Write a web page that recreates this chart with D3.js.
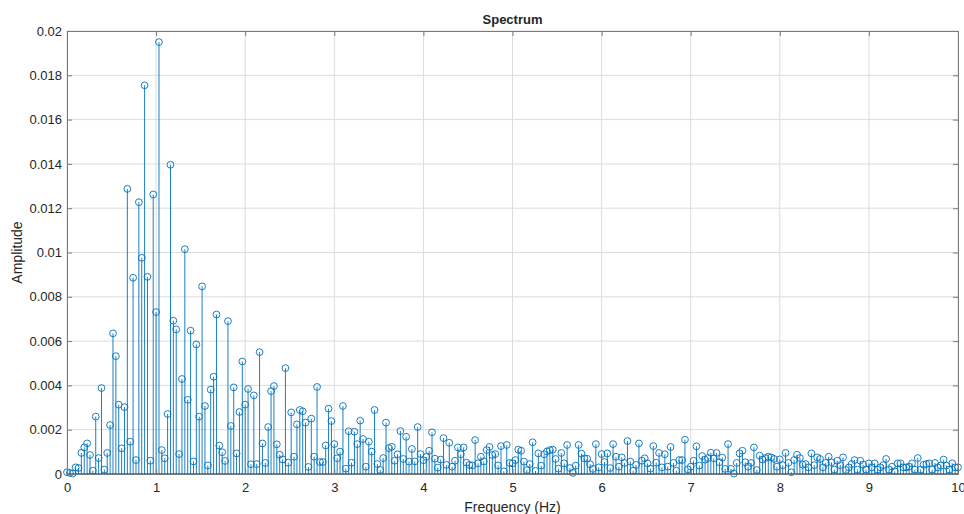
<!DOCTYPE html>
<html>
<head>
<meta charset="utf-8">
<script src="https://cdn.jsdelivr.net/npm/d3@7/dist/d3.min.js"></script>
<style>
  body { margin: 0; background: #fff; }
  text { font-family: "Liberation Sans", Arial, Helvetica, sans-serif; fill: #262626; }
</style>
</head>
<body>
<script>

// frequency bin spacing (Hz) and amplitude of each bin
var freq_step = 10 / 310;
var amplitudes = [
  0.00008, 0.00005, 0.00002, 0.0003, 0.00027, 0.00095, 0.0012, 0.00138, 0.00086, 0.00015,
  0.00259, 0.00072, 0.00388, 0.0002, 0.00095, 0.00221, 0.00635, 0.00532, 0.00313, 0.00116,
  0.00302, 0.01287, 0.00146, 0.00886, 0.00063, 0.01227, 0.00976, 0.01755, 0.0089, 0.0006,
  0.01262, 0.00731, 0.0195, 0.00108, 0.00071, 0.00271, 0.01396, 0.00692, 0.00653, 0.0009,
  0.00429, 0.01015, 0.00335, 0.00647, 0.00057, 0.00585, 0.00259, 0.00847, 0.00307, 0.00039,
  0.00381, 0.00439, 0.0072, 0.00128, 0.00098, 0.00059, 0.0069, 0.00217, 0.00391, 0.00093,
  0.0028, 0.00508, 0.00313, 0.00384, 0.00044, 0.00355, 0.00045, 0.0055, 0.00138, 0.0005,
  0.00212, 0.00374, 0.00397, 0.00134, 0.00087, 0.00066, 0.00478, 0.00051, 0.00278, 0.00078,
  0.00224, 0.00289, 0.00283, 0.00232, 0.00032, 0.0025, 0.00078, 0.00393, 0.00054, 0.00054,
  0.00129, 0.00295, 0.00239, 0.00135, 0.00071, 0.00101, 0.00307, 0.00024, 0.00193, 0.00051,
  0.00191, 0.00135, 0.00241, 0.00158, 0.00033, 0.00146, 0.00101, 0.00289, 0.00045, 0.00018,
  0.00072, 0.00232, 0.00117, 0.00123, 0.0006, 0.00089, 0.00194, 0.00068, 0.00168, 0.00056,
  0.00113, 0.00057, 0.00212, 0.0009, 0.00062, 0.00077, 0.00105, 0.00188, 0.00069, 0.00029,
  0.00065, 0.00162, 0.00041, 0.00141, 0.00033, 0.0006, 0.0012, 0.00089, 0.0012, 0.00051,
  0.00041, 0.00039, 0.00153, 0.00048, 0.00078, 0.00057, 0.00108, 0.00122, 0.00086, 0.0009,
  0.00039, 0.00126, 0.00012, 0.00131, 0.0005, 0.00048, 0.00063, 0.0011, 0.00105, 0.00056,
  0.00018, 0.00045, 0.00143, 0.00014, 0.00093, 0.00038, 0.00089, 0.00102, 0.00108, 0.0011,
  0.00068, 0.00024, 0.00095, 0.00048, 0.00131, 0.00027, 0.00005, 0.00038, 0.00131, 0.00092,
  0.00071, 0.00069, 0.00044, 0.00023, 0.00135, 0.0003, 0.0009, 0.00054, 0.00093, 0.00027,
  0.00135, 0.00078, 0.00033, 0.00075, 0.0005, 0.00149, 0.00056, 0.00015, 0.00041, 0.00138,
  0.0006, 0.00071, 0.00048, 0.00024, 0.00126, 0.00051, 0.00095, 0.0003, 0.00089, 0.00033,
  0.00122, 0.0005, 0.00015, 0.00063, 0.00063, 0.00155, 0.00021, 0.00033, 0.0006, 0.00125,
  0.00038, 0.00081, 0.00065, 0.00072, 0.00096, 0.00071, 0.00095, 0.00053, 0.00074, 0.00023,
  0.00135, 0.00023, 0.00002, 0.0005, 0.00093, 0.00105, 0.00053, 0.00033, 0.0005, 0.0012,
  0.00018, 0.00083, 0.00065, 0.00072, 0.00078, 0.00075, 0.00068, 0.00033, 0.00066, 0.0004,
  0.00095, 0.0005, 0.00008, 0.00063, 0.00087, 0.00072, 0.00042, 0.00045, 0.0003, 0.00093,
  0.0004, 0.00075, 0.00068, 0.0003, 0.0005, 0.00078, 0.00053, 0.0002, 0.0006, 0.0004,
  0.00075, 0.00018, 0.0003, 0.00045, 0.00063, 0.0002, 0.0006, 0.00042, 0.0002, 0.00048,
  0.0003, 0.00048, 0.0002, 0.0003, 0.0004, 0.00068, 0.0002, 0.00033, 0.00012, 0.00048,
  0.00048, 0.0003, 0.0003, 0.00033, 0.00048, 0.0002, 0.00072, 0.0002, 0.00042, 0.00045,
  0.00048, 0.0002, 0.0005, 0.0003, 0.00038, 0.00065, 0.00038, 0.0002, 0.00048, 0.0003, 0.0003
];
var x_ticks = [0, 1, 2, 3, 4, 5, 6, 7, 8, 9, 10];
var y_ticks = [0, 0.002, 0.004, 0.006, 0.008, 0.01, 0.012, 0.014, 0.016, 0.018, 0.02];

var width = 964, height = 514;
var margin = {top: 31, right: 6, bottom: 40, left: 67};
var w = width - margin.left - margin.right;
var h = height - margin.top - margin.bottom;
var stem_color = "#0072BD";

var svg = d3.select("body").append("svg")
    .attr("width", width)
    .attr("height", height);

var g = svg.append("g")
    .attr("transform", "translate(" + margin.left + "," + margin.top + ")");

var x = d3.scaleLinear().domain([0, 10]).range([0, w]);
var y = d3.scaleLinear().domain([0, 0.02]).range([h, 0]);

// grid
g.selectAll(".vgrid").data(x_ticks).enter().append("line")
    .attr("x1", function (d) { return x(d); })
    .attr("x2", function (d) { return x(d); })
    .attr("y1", 0).attr("y2", h)
    .attr("stroke", "#dcdcdc").attr("stroke-width", 1);
g.selectAll(".hgrid").data(y_ticks).enter().append("line")
    .attr("x1", 0).attr("x2", w)
    .attr("y1", function (d) { return y(d); })
    .attr("y2", function (d) { return y(d); })
    .attr("stroke", "#dcdcdc").attr("stroke-width", 1);

var points = amplitudes.map(function (a, i) {
  return {f: i * freq_step, a: a};
});

// stems
g.selectAll(".stem").data(points).enter().append("line")
    .attr("x1", function (d) { return x(d.f); })
    .attr("x2", function (d) { return x(d.f); })
    .attr("y1", y(0))
    .attr("y2", function (d) { return y(d.a); })
    .attr("stroke", stem_color).attr("stroke-width", 0.9);

// baseline
g.append("line")
    .attr("x1", 0).attr("x2", w)
    .attr("y1", y(0)).attr("y2", y(0))
    .attr("stroke", "#262626").attr("stroke-width", 1);

// markers
g.selectAll(".marker").data(points).enter().append("circle")
    .attr("cx", function (d) { return x(d.f); })
    .attr("cy", function (d) { return y(d.a); })
    .attr("r", 3.4)
    .attr("fill", "none")
    .attr("stroke", stem_color).attr("stroke-width", 0.9);

// axes (ticks pointing in, box on)
function style_axis(sel) {
  sel.select(".domain").attr("stroke", "#7a7a7a");
  sel.selectAll(".tick line").attr("stroke", "#7a7a7a");
  sel.selectAll("text").attr("font-size", 13).attr("fill", "#262626")
     .style("font-family", "'Liberation Sans', Arial, sans-serif");
}

g.append("g")
    .attr("transform", "translate(0," + h + ")")
    .call(d3.axisBottom(x).tickValues(x_ticks).tickSizeInner(-5).tickSizeOuter(0).tickPadding(9))
    .call(style_axis);

g.append("g")
    .call(d3.axisLeft(y).tickValues(y_ticks).tickSizeInner(-5).tickSizeOuter(0).tickPadding(5)
          .tickFormat(function (d) { return d === 0 ? "0" : d3.format("~g")(d); }))
    .call(style_axis);

g.append("g")
    .call(d3.axisTop(x).tickValues(x_ticks).tickSizeInner(-5).tickSizeOuter(0).tickFormat(""))
    .call(style_axis);

g.append("g")
    .attr("transform", "translate(" + w + ",0)")
    .call(d3.axisRight(y).tickValues(y_ticks).tickSizeInner(-5).tickSizeOuter(0).tickFormat(""))
    .call(style_axis);

// title and labels
svg.append("text")
    .attr("x", margin.left + w / 2).attr("y", 24)
    .attr("text-anchor", "middle")
    .attr("font-size", 13).attr("font-weight", "bold")
    .text("Spectrum");

svg.append("text")
    .attr("x", margin.left + w / 2).attr("y", 512)
    .attr("text-anchor", "middle")
    .attr("font-size", 14)
    .text("Frequency (Hz)");

svg.append("text")
    .attr("transform", "translate(22," + (margin.top + h / 2) + ") rotate(-90)")
    .attr("text-anchor", "middle")
    .attr("font-size", 14)
    .text("Amplitude");

</script>
</body>
</html>
